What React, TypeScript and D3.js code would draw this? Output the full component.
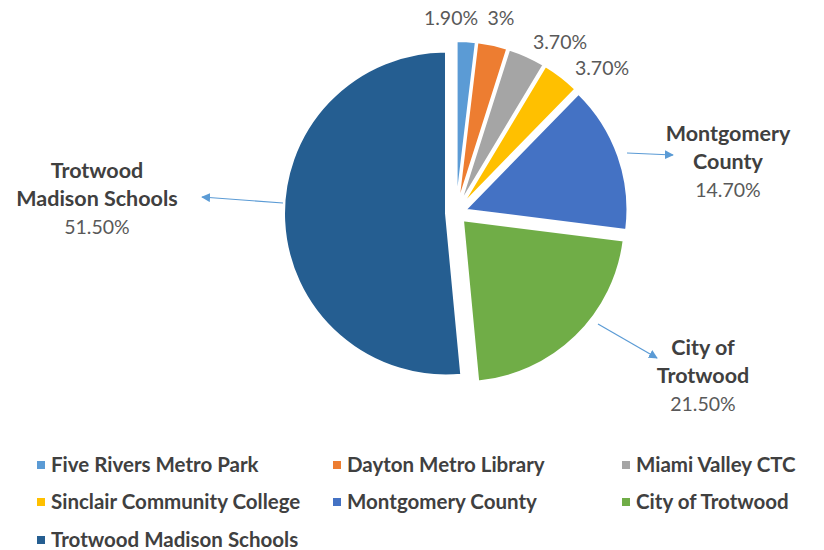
import React, { useEffect, useRef } from 'react';
import * as d3 from 'd3';

// Chart data
const categories = [
  'Five Rivers Metro Park',
  'Dayton Metro Library',
  'Miami Valley CTC',
  'Sinclair Community College',
  'Montgomery County',
  'City of Trotwood',
  'Trotwood Madison Schools',
];
const shares = [1.9, 3, 3.7, 3.7, 14.7, 21.5, 51.5];
const valueLabels = ['1.90%', '3%', '3.70%', '3.70%', '14.70%', '21.50%', '51.50%'];
const colors = ['#5B9BD5', '#ED7D31', '#A5A5A5', '#FFC000', '#4472C4', '#70AD47', '#255E91'];

interface Slice {
  name: string;
  value: number;
  label: string;
  color: string;
}

const App: React.FC = () => {
  const svgRef = useRef<SVGSVGElement>(null);

  useEffect(() => {
    if (!svgRef.current) return;
    const svg = d3.select(svgRef.current);
    svg.selectAll('*').remove();

    const width = 824;
    const height = 550;
    const cx = 456;
    const cy = 213;
    const radius = 162;
    const explode = 10;
    const font = 'Lato, "Open Sans", sans-serif';

    const data: Slice[] = categories.map((name, i) => ({
      name,
      value: shares[i],
      label: valueLabels[i],
      color: colors[i],
    }));

    svg.attr('width', width).attr('height', height);

    const defs = svg.append('defs');
    defs.append('marker')
      .attr('id', 'arrow')
      .attr('viewBox', '0 0 10 10')
      .attr('refX', 9)
      .attr('refY', 5)
      .attr('markerWidth', 9)
      .attr('markerHeight', 9)
      .attr('markerUnits', 'userSpaceOnUse')
      .attr('orient', 'auto')
      .append('path')
      .attr('d', 'M0,0 L10,5 L0,10 Z')
      .attr('fill', '#5B9BD5');

    const pie = d3.pie<Slice>().sort(null).value(d => d.value);
    const arc = d3.arc<d3.PieArcDatum<Slice>>().innerRadius(0).outerRadius(radius);
    const arcs = pie(data);

    const g = svg.append('g').attr('transform', `translate(${cx},${cy})`);

    // exploded slices
    g.selectAll('path.slice')
      .data(arcs)
      .enter()
      .append('path')
      .attr('class', 'slice')
      .attr('d', arc)
      .attr('fill', d => d.data.color)
      .attr('stroke', '#fff')
      .attr('stroke-width', 2)
      .attr('transform', d => {
        const mid = (d.startAngle + d.endAngle) / 2;
        return `translate(${Math.sin(mid) * explode},${-Math.cos(mid) * explode})`;
      });

    // small slice labels (top)
    const smallLabelPos: [number, number][] = [
      [-5, -188], [45, -188], [104, -164], [146, -138],
    ];
    arcs.slice(0, 4).forEach((d, i) => {
      g.append('text')
        .attr('x', smallLabelPos[i][0])
        .attr('y', smallLabelPos[i][1])
        .attr('text-anchor', 'middle')
        .attr('font-family', font)
        .attr('font-size', 19.5)
        .attr('fill', '#595959')
        .text(d.data.label);
    });

    // callout labels with arrows
    const callouts = [
      { idx: 4, lines: ['Montgomery', 'County'], x: 728, y: 141, line: [[627, 153], [673, 155]] },
      { idx: 5, lines: ['City of', 'Trotwood'], x: 703, y: 355, line: [[598, 324], [657, 358]] },
      { idx: 6, lines: ['Trotwood', 'Madison Schools'], x: 97, y: 178, line: [[283, 203], [202, 197]] },
    ];

    callouts.forEach(c => {
      const d = arcs[c.idx];
      svg.append('line')
        .attr('x1', c.line[0][0])
        .attr('y1', c.line[0][1])
        .attr('x2', c.line[1][0])
        .attr('y2', c.line[1][1])
        .attr('stroke', '#5B9BD5')
        .attr('stroke-width', 1.2)
        .attr('marker-end', 'url(#arrow)');
      const t = svg.append('text')
        .attr('x', c.x)
        .attr('y', c.y)
        .attr('text-anchor', 'middle')
        .attr('font-family', font)
        .attr('fill', '#404040');
      c.lines.forEach((ln, j) => {
        t.append('tspan')
          .attr('x', c.x)
          .attr('dy', j === 0 ? 0 : 28)
          .attr('font-weight', 'bold')
          .attr('font-size', 21.5)
          .text(ln);
      });
      t.append('tspan')
        .attr('x', c.x)
        .attr('dy', 28)
        .attr('font-size', 19.5)
        .attr('fill', '#595959')
        .text(d.data.label);
    });

    // legend
    const colX = [37, 333, 622];
    const rowY = [465, 502, 540];
    const legend = svg.append('g');
    data.forEach((d, i) => {
      const x = colX[i % 3];
      const y = rowY[Math.floor(i / 3)];
      const item = legend.append('g').attr('transform', `translate(${x},${y})`);
      item.append('rect')
        .attr('x', 0)
        .attr('y', -4)
        .attr('width', 8)
        .attr('height', 8)
        .attr('fill', d.color);
      item.append('text')
        .attr('x', 14)
        .attr('y', 7)
        .attr('font-family', font)
        .attr('font-size', 20.5)
        .attr('font-weight', 'bold')
        .attr('fill', '#404040')
        .text(d.name);
    });
  }, []);

  return (
    <svg
      ref={svgRef}
      style={{ position: 'absolute', left: 0, top: 0, background: '#fff' }}
    />
  );
};

export default App;
